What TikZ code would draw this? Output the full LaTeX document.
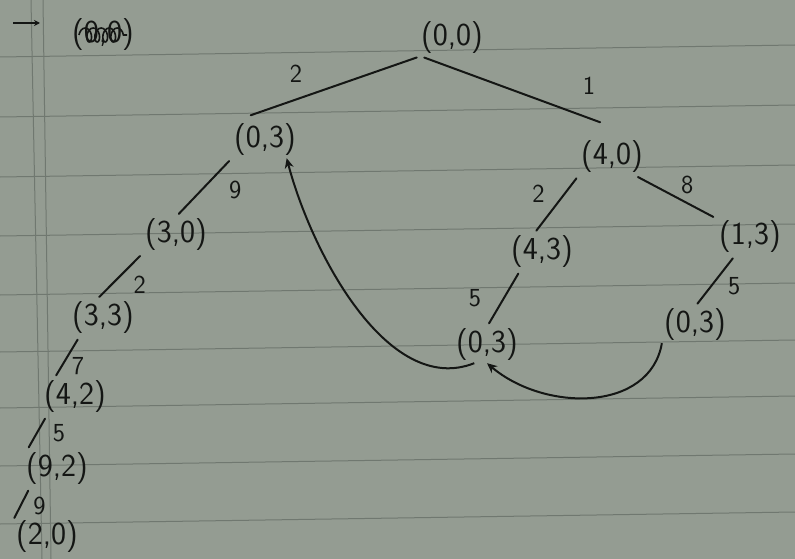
\documentclass[tikz,border=0pt]{standalone}
\usepackage{tikz}
\usetikzlibrary{arrows.meta,decorations.pathmorphing}
\definecolor{paper}{RGB}{148,156,146}
\definecolor{ruleclr}{RGB}{112,120,112}
\definecolor{ink}{RGB}{20,22,20}
\tikzset{
  tnode/.style={inner sep=2pt,text=ink,
                font=\sffamily\fontsize{32}{34}\selectfont},
  wlab/.style={inner sep=2pt,text=ink,
               font=\sffamily\fontsize{26}{28}\selectfont},
  tedge/.style={draw=ink,line width=2pt,line cap=round,
                shorten <=4pt,shorten >=4pt},
  back/.style={draw=ink,line width=2pt,-{Stealth[length=10pt,width=9pt]}},
}
\begin{document}
\begin{tikzpicture}[
    x=1pt,y=-1pt,
    ruled/.style={draw=ruleclr,line width=1pt},
    scribble/.style={draw=ink,line width=1.6pt,decorate,
                     decoration={coil,aspect=0.6,segment length=8pt,amplitude=7pt}},
]
% paper
\fill[paper] (0,0) rectangle (795,559);
\useasboundingbox (0,0) rectangle (795,559);
\foreach \yy in {57,117,177,236,295,352,408,466,524}
  \draw[ruled] (0,\yy) -- (795,\yy-12);
\draw[ruled] (31,0) -- (42,559);
\draw[ruled] (43,0) -- (51,559);

% crossed-out start
\node[tnode] (start) at (103,35) {(0,0)};
\draw[scribble] ([xshift=-24pt]start.center) -- ([xshift=24pt]start.center);
\coordinate (arrtail) at (13,23);
\coordinate (arrtip) at (40,23);
\draw[draw=ink,line width=1.6pt,-{Stealth[length=6pt,width=6pt]}] (arrtail) -- (arrtip);

% states
\node[tnode] (root) at (452,38) {(0,0)};
\node[tnode] (l03) at (265,140) {(0,3)};
\node[tnode] (n30) at (176,235) {(3,0)};
\node[tnode] (n33) at (103,318) {(3,3)};
\node[tnode] (n42) at (75,397) {(4,2)};
\node[tnode] (n92) at (57,469) {(9,2)};
\node[tnode] (n20) at (47,537) {(2,0)};
\node[tnode] (n40) at (612,157) {(4,0)};
\node[tnode] (n43) at (542,252) {(4,3)};
\node[tnode] (n13) at (750,237) {(1,3)};
\node[tnode] (m03) at (487,345) {(0,3)};
\node[tnode] (r03) at (695,325) {(0,3)};

% left branch
\draw[tedge,shorten >=20pt] (root.210) -- node[wlab,pos=.66,above=14pt] {2} (l03.north west);
\draw[tedge] (l03.south west) -- node[wlab,pos=.55,right=25pt] {9} (n30.north);
\draw[tedge] (n30.south west) -- node[wlab,pos=.67,right=19pt] {2} (n33.110);
\draw[tedge] (n33.218) -- node[wlab,pos=.7,right=7pt] {7} (n42.139);
\draw[tedge] (n42.213) -- node[wlab,pos=.5,right=13pt] {5} (n92.149);
\draw[tedge,shorten >=1pt] (n92.214) -- node[wlab,pos=.6,right=10pt] {9} (n20.north west);

% right branch
\draw[tedge,shorten >=48pt] (root.210) -- node[wlab,pos=.75,above=21pt] {1} (n40.north east);
\draw[tedge] (n40.south west) -- node[wlab,pos=.32,left=17pt] {2} (n43.114);
\draw[tedge] (n40.-39) -- node[wlab,pos=.64,above=6pt] {8} (n13.north west);
\draw[tedge] (n43.220) -- node[wlab,pos=.49,left=20pt] {5} (m03.north);
\draw[tedge] (n13.231) -- node[wlab,pos=.6,right=14pt] {5} (r03.north);

% back arcs
\draw[back] (r03.south west) .. controls +(-12,69) and +(58,49) .. (m03.south);
\draw[back] (m03.235) .. controls +(-86,34) and +(25,95) .. (l03.-40);
\end{tikzpicture}
\end{document}
